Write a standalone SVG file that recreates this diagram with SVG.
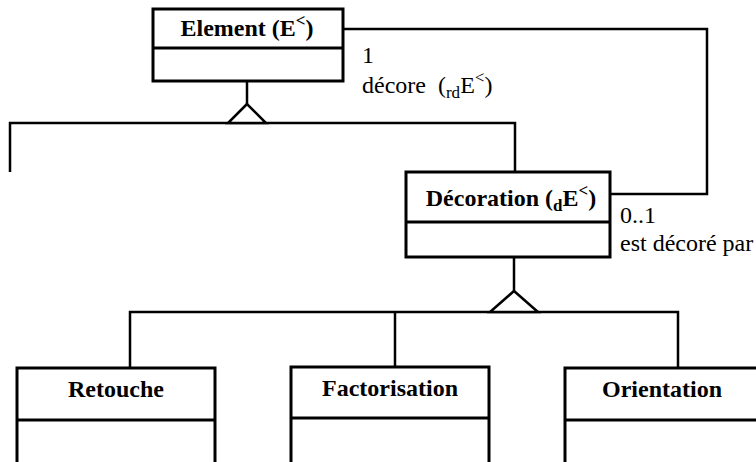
<svg xmlns="http://www.w3.org/2000/svg" width="756" height="462" viewBox="0 0 756 462">
<style>
.box{fill:#fff;stroke:#000;stroke-width:3}
.ln{fill:none;stroke:#000;stroke-width:2.5}
.tri{fill:#fff;stroke:#000;stroke-width:2.5;stroke-linejoin:miter}
text{font-family:"Liberation Serif","DejaVu Serif",serif;font-size:24px;fill:#000}
.b{font-weight:bold;text-anchor:middle}
.s{font-size:17px}
</style>
<rect width="756" height="462" fill="#fff"/>
<g id="connectors">
<polyline class="ln" points="343,29 707,29 707,194 610,194"/>
<line class="ln" x1="247" y1="81" x2="247" y2="104"/>
<polyline class="ln" points="10,172 10,123 515,123 515,172"/>
<polygon class="tri" points="247,104 228,123 266,123"/>
<line class="ln" x1="514" y1="257" x2="514" y2="291"/>
<polyline class="ln" points="130,368 130,312 678,312 678,368"/>
<line class="ln" x1="395" y1="312" x2="395" y2="367"/>
<polygon class="tri" points="514,291 490,312 538,312"/>
</g>
<g id="labels">
<text x="362" y="63" font-family="Liberation Serif, serif">1</text>
<text x="362" y="93" font-family="Liberation Serif, serif" xml:space="preserve">décore  (<tspan class="s" dy="5">rd</tspan><tspan dy="-5">E</tspan><tspan class="s" dy="-10">&lt;</tspan><tspan dy="10">)</tspan></text>
<text x="620" y="223" font-family="Liberation Serif, serif">0..1</text>
<text x="620" y="251" font-family="Liberation Serif, serif">est décoré par</text>
</g>
<g id="element">
<rect class="box" x="153" y="9" width="190" height="72"/>
<line class="box" x1="153" y1="48" x2="343" y2="48"/>
<text class="b" x="247" y="36" font-family="Liberation Serif, serif">Element (E<tspan class="s" dy="-10">&lt;</tspan><tspan dy="10">)</tspan></text>
</g>
<g id="decoration">
<rect class="box" x="406" y="172" width="204" height="85"/>
<line class="box" x1="406" y1="222" x2="610" y2="222"/>
<text class="b" x="511" y="206" font-family="Liberation Serif, serif">Décoration (<tspan class="s" dy="5">d</tspan><tspan dy="-5">E</tspan><tspan class="s" dy="-10">&lt;</tspan><tspan dy="10">)</tspan></text>
</g>
<g id="retouche">
<rect class="box" x="17" y="368" width="198" height="110"/>
<line class="box" x1="17" y1="420" x2="215" y2="420"/>
<text class="b" x="116" y="397" font-family="Liberation Serif, serif">Retouche</text>
</g>
<g id="factorisation">
<rect class="box" x="291" y="367" width="198" height="110"/>
<line class="box" x1="291" y1="418" x2="489" y2="418"/>
<text class="b" x="390" y="396" font-family="Liberation Serif, serif">Factorisation</text>
</g>
<g id="orientation">
<rect class="box" x="565" y="368" width="200" height="110"/>
<line class="box" x1="565" y1="420" x2="765" y2="420"/>
<text class="b" x="662" y="397" font-family="Liberation Serif, serif">Orientation</text>
</g>
</svg>
